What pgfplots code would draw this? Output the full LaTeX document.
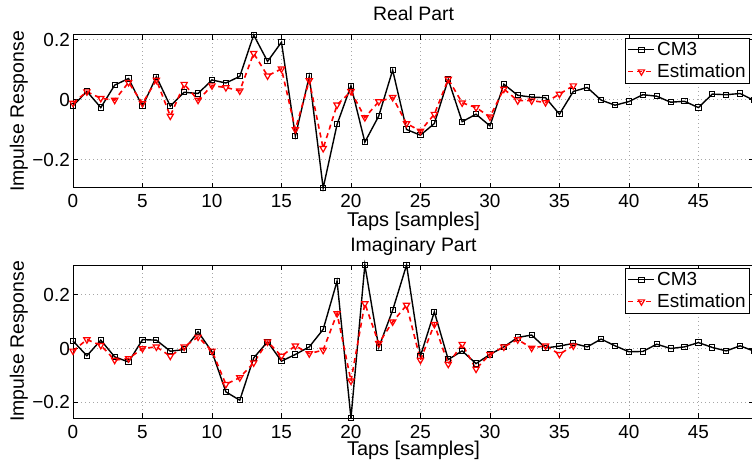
\documentclass[border=0pt]{standalone}
\usepackage{fontspec}
\setmainfont{Liberation Sans}
\usepackage{pgfplots}
\pgfplotsset{compat=1.18}
\pgfplotsset{
 myax/.style={
  scale only axis, width=681bp,
  xmin=0, xmax=49,
  xtick={0,5,...,45},
  ytick={-0.2,0,0.2},
  yticklabels={−0.2,0,0.2},
  tick align=inside, major tick length=5bp,
  xmajorgrids, ymajorgrids,
  grid style={gray!70, dash pattern=on 1bp off 3bp, line width=0.6bp},
  axis line style={line width=1bp},
  every tick/.style={black, line width=0.8bp},
  /pgf/number format/assume math mode=true,
  tick label style={font=\fontsize{19}{19}\selectfont},
  label style={font=\fontsize{20}{20}\selectfont},
  xticklabel style={anchor=base, yshift=-20bp},
  yticklabel style={anchor=east, inner sep=0pt, xshift=-3bp},
  xlabel={Taps [samples]},
  ylabel={Impulse Response},
  ylabel style={at={(axis description cs:-0.072,0.5)}, anchor=base, font=\fontsize{19.5}{19.5}\selectfont},
  clip=false,
  legend style={at={(1,1)}, anchor=north east, xshift=-4bp, yshift=-3bp, draw=black, line width=0.8bp,
    font=\fontsize{19}{19}\selectfont, inner xsep=2bp, inner ysep=2bp, row sep=3bp, cells={anchor=west}},
  legend image code/.code={\draw[mark repeat=2,mark phase=2,##1] plot coordinates {(0bp,0bp) (13bp,0bp) (26bp,0bp)};},
 },
 cmthree/.style={black, line width=1.4bp, mark=square, mark size=2.6bp, mark options={solid, line width=1bp}},
 estim/.style={red, line width=1.6bp, dash pattern=on 5bp off 4bp, mark=triangle, mark size=3.6bp, mark options={solid, rotate=180, line width=1.2bp}},
}
\begin{document}
\begin{tikzpicture}
\begin{axis}[myax, at={(73bp,276bp)}, anchor=south west, height=153bp,
  ymin=-0.295, ymax=0.215,
  xlabel style={at={(axis description cs:0.5,-0.25)}, anchor=base}]
\addplot[cmthree] coordinates {
(0,-0.021) (1,0.027) (2,-0.027) (3,0.048) (4,0.070) (5,-0.023) (6,0.076) (7,-0.022) (8,0.024) (9,0.020)
(10,0.065) (11,0.055) (12,0.077) (13,0.215) (14,0.127) (15,0.191) (16,-0.122) (17,0.077) (18,-0.295) (19,-0.083)
(20,0.046) (21,-0.142) (22,-0.055) (23,0.098) (24,-0.100) (25,-0.119) (26,-0.080) (27,0.067) (28,-0.074) (29,-0.049)
(30,-0.088) (31,0.051) (32,0.014) (33,0.008) (34,0.006) (35,-0.049) (36,0.027) (37,0.040) (38,-0.002) (39,-0.019)
(40,-0.007) (41,0.016) (42,0.011) (43,-0.009) (44,-0.006) (45,-0.027) (46,0.018) (47,0.016) (48,0.020) (49,-0.003)};
\addlegendentry{CM3}
\addplot[estim] coordinates {
(0,-0.012) (1,0.026) (2,0.004) (3,-0.002) (4,0.057) (5,-0.013) (6,0.065) (7,-0.055) (8,0.051) (9,-0.002)
(10,0.046) (11,0.040) (12,0.029) (13,0.154) (14,0.079) (15,0.102) (16,-0.100) (17,0.063) (18,-0.163) (19,-0.018)
(20,0.027) (21,-0.060) (22,-0.007) (23,0.007) (24,-0.080) (25,-0.105) (26,-0.049) (27,0.068) (28,-0.011) (29,-0.027)
(30,-0.058) (31,0.035) (32,-0.004) (33,-0.004) (34,-0.010) (35,0.018) (36,0.046)};
\addlegendentry{Estimation}
\node[anchor=base, inner sep=0pt, font=\fontsize{19.5}{19.5}\selectfont] at (axis description cs:0.5,1.095) {Real Part};
\end{axis}
\begin{axis}[myax, at={(73bp,46bp)}, anchor=south west, height=153bp,
  ymin=-0.258, ymax=0.310,
  xlabel style={at={(axis description cs:0.5,-0.248)}, anchor=base}]
\addplot[cmthree] coordinates {
(0,0.028) (1,-0.027) (2,0.031) (3,-0.031) (4,-0.050) (5,0.033) (6,0.031) (7,-0.010) (8,-0.004) (9,0.062)
(10,-0.012) (11,-0.161) (12,-0.192) (13,-0.035) (14,0.025) (15,-0.047) (16,-0.022) (17,0.006) (18,0.071) (19,0.250)
(20,-0.258) (21,0.310) (22,0.004) (23,0.142) (24,0.310) (25,-0.028) (26,0.136) (27,-0.041) (28,-0.009) (29,-0.056)
(30,-0.022) (31,0.006) (32,0.041) (33,0.050) (34,0.002) (35,0.009) (36,0.019) (37,0.006) (38,0.035) (39,0.010)
(40,-0.012) (41,-0.011) (42,0.016) (43,0.000) (44,0.006) (45,0.022) (46,0.004) (47,-0.009) (48,0.010) (49,-0.010)};
\addlegendentry{CM3}
\addplot[estim] coordinates {
(0,-0.009) (1,0.033) (2,0.012) (3,-0.043) (4,-0.037) (5,0.000) (6,0.006) (7,-0.028) (8,0.006) (9,0.043)
(10,-0.009) (11,-0.133) (12,-0.108) (13,-0.053) (14,0.025) (15,-0.028) (16,0.010) (17,-0.019) (18,-0.006) (19,0.130)
(20,-0.120) (21,0.167) (22,0.019) (23,0.099) (24,0.161) (25,-0.043) (26,0.090) (27,-0.058) (28,0.016) (29,-0.076)
(30,-0.021) (31,0.006) (32,0.033) (33,0.002) (34,0.010) (35,-0.021) (36,0.010)};
\addlegendentry{Estimation}
\node[anchor=base, inner sep=0pt, font=\fontsize{19.5}{19.5}\selectfont] at (axis description cs:0.5,1.085) {Imaginary Part};
\end{axis}
\pgfresetboundingbox
\path[use as bounding box] (0,0) rectangle (752bp,464bp);
\end{tikzpicture}
\end{document}
